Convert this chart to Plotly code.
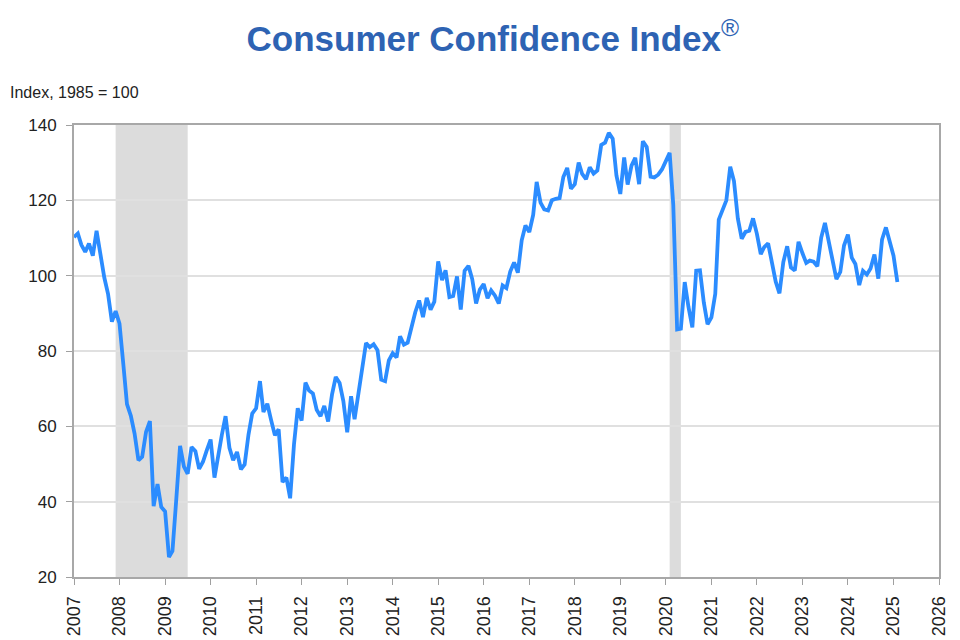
import pandas as pd
import plotly.graph_objects as go

# Conference Board Consumer Confidence Index, monthly, Jan 2007 - Feb 2025
months = pd.date_range("2007-01-01", "2025-02-01", freq="MS")
cci = [
    110.2, 111.2, 108.2, 106.3, 108.5, 105.3, 111.9, 105.6, 99.5, 95.2, 87.8, 90.6,   # 2007
    87.3, 76.4, 65.9, 62.8, 58.1, 51.0, 51.9, 58.5, 61.4, 38.8, 44.7, 38.6,           # 2008
    37.4, 25.3, 26.9, 40.8, 54.8, 49.3, 47.4, 54.5, 53.4, 48.7, 50.6, 53.6,           # 2009
    56.5, 46.4, 52.3, 57.7, 62.7, 54.3, 51.0, 53.2, 48.6, 49.9, 57.8, 63.4,           # 2010
    64.8, 72.0, 63.8, 66.0, 61.7, 57.6, 59.2, 45.2, 46.4, 40.9, 55.2, 64.8,           # 2011
    61.5, 71.6, 69.5, 68.7, 64.4, 62.7, 65.4, 61.3, 68.4, 73.1, 71.5, 66.7,           # 2012
    58.4, 68.0, 61.9, 69.0, 76.2, 82.1, 81.0, 81.8, 80.2, 72.4, 72.0, 77.5,           # 2013
    79.4, 78.3, 83.9, 81.7, 82.2, 86.4, 90.3, 93.4, 89.0, 94.1, 91.0, 93.1,           # 2014
    103.8, 98.8, 101.4, 94.3, 94.6, 99.8, 91.0, 101.3, 102.6, 99.1, 92.6, 96.3,       # 2015
    97.8, 94.0, 96.1, 94.7, 92.6, 97.4, 96.7, 101.1, 103.5, 100.8, 109.4, 113.3,      # 2016
    111.6, 116.1, 124.9, 119.4, 117.6, 117.3, 120.0, 120.4, 120.6, 126.2, 128.6, 123.1,  # 2017
    124.3, 130.0, 127.0, 125.6, 128.8, 127.1, 127.9, 134.7, 135.3, 137.9, 136.4, 126.6,  # 2018
    121.7, 131.4, 124.2, 129.2, 131.3, 124.3, 135.7, 134.2, 126.3, 126.1, 126.8, 128.2,  # 2019
    130.4, 132.6, 118.8, 85.7, 85.9, 98.3, 91.7, 86.3, 101.3, 101.4, 92.9, 87.1,      # 2020
    88.9, 95.2, 114.9, 117.5, 120.0, 128.9, 125.1, 115.2, 109.8, 111.6, 111.9, 115.2,  # 2021
    111.1, 105.7, 107.6, 108.6, 103.2, 98.4, 95.3, 103.6, 107.8, 102.2, 101.4, 109.0,  # 2022
    106.0, 103.4, 104.0, 103.7, 102.5, 110.1, 114.0, 108.7, 104.3, 99.1, 101.0, 108.0,  # 2023
    110.9, 104.8, 103.1, 97.5, 101.3, 100.3, 101.9, 105.6, 99.2, 109.6, 112.8, 109.5,  # 2024
    105.3, 98.3,                                                                      # 2025
]

# recession periods (shaded)
recession_start = ["2007-12-01", "2020-02-01"]
recession_end = ["2009-07-01", "2020-05-01"]

year_ticks = [f"{y}-01-01" for y in range(2007, 2027)]
year_labels = [str(y) for y in range(2007, 2027)]

FONT = "Liberation Sans, Arial, sans-serif"

fig = go.Figure()

for s, e in zip(recession_start, recession_end):
    fig.add_vrect(x0=s, x1=e, fillcolor="#dcdcdc", opacity=1, line_width=0, layer="below")

fig.add_trace(go.Scatter(
    x=months, y=cci, mode="lines",
    line=dict(color="#2b8cff", width=3.8),
    showlegend=False,
))

fig.update_layout(
    width=960, height=640,
    margin=dict(l=66, r=29, t=117, b=71),
    paper_bgcolor="white", plot_bgcolor="white",
    font=dict(family=FONT, color="#222222", size=16),
    title=dict(
        text="<b>Consumer Confidence Index</b><sup>®</sup>",
        x=0.505, xanchor="center", y=0.952, yanchor="middle",
        font=dict(family=FONT, size=35, color="#2e63b3"),
    ),
    annotations=[dict(
        text="Index, 1985 = 100", xref="paper", yref="paper",
        x=-0.0763, y=1.073, xanchor="left", yanchor="middle",
        showarrow=False, font=dict(size=16, color="#222222"),
    )],
)

fig.update_xaxes(
    range=["2007-01-01", "2026-01-01"],
    tickmode="array", tickvals=year_ticks, ticktext=year_labels,
    tickangle=-90, ticks="outside", ticklen=6, tickcolor="#a0a0a0",
    ticklabelstandoff=4,
    showgrid=False, showline=True, linecolor="#a8a8a8", linewidth=2, mirror=True,
    tickfont=dict(size=18, color="#222222"),
)
fig.update_yaxes(
    range=[20, 140], dtick=20, ticks="outside", ticklen=6, tickcolor="#a0a0a0",
    ticklabelstandoff=6,
    showgrid=True, gridcolor="#e0e0e0", gridwidth=1.5,
    showline=True, linecolor="#a8a8a8", linewidth=2, mirror=True,
    tickfont=dict(size=17, color="#222222"),
)

fig.write_html("out.html")
